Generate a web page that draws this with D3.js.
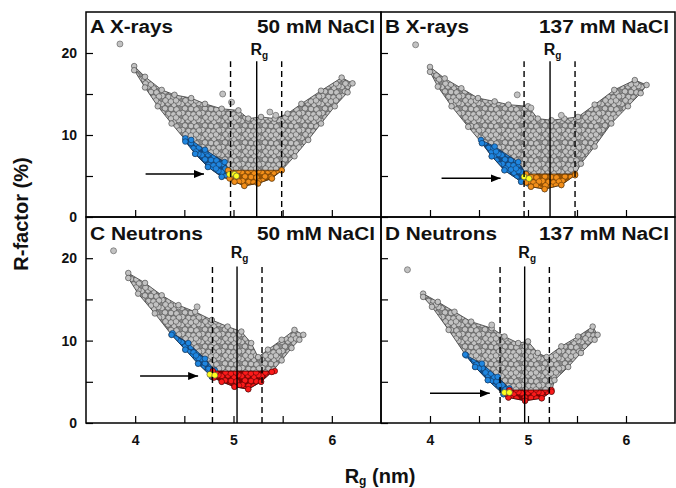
<!DOCTYPE html>
<html>
<head>
<meta charset="utf-8">
<script src="https://cdn.jsdelivr.net/npm/d3@7"></script>
<style>
  body { margin: 0; background: #fff; }
  svg { display: block; }
  text { font-family: Arial, "Liberation Sans", sans-serif; font-weight: bold; fill: #111; }
</style>
</head>
<body>
<svg id="chart" width="676" height="488"></svg>
<script>
// ---- ticks ----
const xTicks = [4, 4.5, 5, 5.5, 6];
const yTicks = [0, 5, 10, 15, 20];

// ---- panel headings ----
const panelTitles = ["A X-rays", "B X-rays", "C Neutrons", "D Neutrons"];
const saltLabels = ["50 mM NaCl", "137 mM NaCl", "50 mM NaCl", "137 mM NaCl"];

// ---- measured Rg (solid) and its bounds (dashed), nm ----
const rgCentre = [5.236, 5.225, 5.036, 4.966];
const rgLow = [4.97, 4.96, 4.786, 4.715];
const rgHigh = [5.49, 5.48, 5.29, 5.218];

// ---- arrows pointing at the selected models: [Rg start, Rg end, R-factor] ----
const arrowA = [4.106, 4.70, 5.24];
const arrowB = [4.118, 4.72, 4.72];
const arrowC = [4.05, 4.64, 5.70];
const arrowD = [4.00, 4.61, 3.60];

// ---- ensemble clouds: outline of all models [Rg, R-factor] ----
const cloudA = [[3.99,18.4],[4.10,17.1],[4.27,15.5],[4.40,14.9],[4.57,14.5],[4.71,13.8],[4.88,13.2],[5.05,13.0],[5.15,12.0],[5.28,12.2],[5.42,12.0],[5.55,12.6],[5.69,13.8],[5.89,15.4],[6.10,17.0],[6.21,16.3],
  [6.16,15.2],[6.03,13.5],[5.89,11.4],[5.76,9.4],[5.62,7.4],[5.49,5.7],[5.39,4.7],[5.25,4.1],[5.11,3.8],[5.01,4.3],[4.88,4.9],[4.74,6.1],[4.61,7.7],[4.51,9.4],[4.37,11.4],[4.23,13.5],[4.10,15.8],[3.99,17.9]];
const cloudB = [[4.00,18.3],[4.15,16.9],[4.32,15.7],[4.49,14.5],[4.66,14.1],[4.80,13.7],[5.00,13.5],[5.10,12.0],[5.24,11.8],[5.37,12.0],[5.51,12.2],[5.68,13.7],[5.88,15.5],[6.09,16.7],[6.21,16.1],
  [6.15,15.1],[6.02,13.5],[5.85,11.4],[5.68,8.6],[5.54,6.5],[5.48,5.1],[5.34,3.9],[5.17,3.4],[5.03,3.7],[4.93,4.3],[4.76,5.7],[4.63,7.4],[4.53,9.0],[4.39,11.0],[4.22,13.5],[4.08,15.9],[4.00,17.7]];
const cloudC = [[3.93,18.2],[4.10,17.0],[4.27,15.5],[4.44,14.3],[4.61,13.5],[4.78,12.5],[4.94,11.7],[5.08,11.1],[5.18,9.7],[5.25,8.0],[5.35,8.9],[5.49,10.1],[5.62,11.3],[5.71,10.7],
  [5.67,10.1],[5.59,9.1],[5.49,7.6],[5.39,6.2],[5.28,5.0],[5.15,4.1],[5.01,4.4],[4.88,5.0],[4.78,5.6],[4.64,7.2],[4.51,8.9],[4.37,10.7],[4.20,13.3],[4.03,15.7],[3.93,17.6]];
const cloudD = [[3.93,15.7],[4.08,14.7],[4.25,13.5],[4.42,12.3],[4.63,11.5],[4.76,10.5],[4.90,9.7],[5.00,9.9],[5.10,8.5],[5.19,8.0],[5.34,9.3],[5.51,10.5],[5.66,11.7],[5.71,10.7],
  [5.68,10.1],[5.54,8.5],[5.41,6.8],[5.27,5.2],[5.24,3.8],[5.14,3.0],[4.97,2.7],[4.80,3.1],[4.75,3.5],[4.59,5.2],[4.46,6.8],[4.36,8.3],[4.19,11.3],[4.02,14.1],[3.93,15.3]];

// ---- compact-model band (blue) ----
const compactA = [[4.51,9.6],[4.57,9.4],[4.71,8.2],[4.91,6.7],[4.95,5.7],[5.05,4.7],[5.01,4.5],[4.88,4.9],[4.74,6.1],[4.61,7.7],[4.51,9.2]];
const compactB = [[4.52,9.4],[4.66,8.6],[4.90,6.7],[4.98,5.3],[5.03,4.7],[5.00,4.1],[4.93,4.3],[4.76,5.7],[4.63,7.4],[4.53,9.0]];
const compactC = [[4.38,10.9],[4.54,9.7],[4.71,7.8],[4.81,6.4],[4.80,5.6],[4.78,5.6],[4.64,7.2],[4.51,8.9],[4.37,10.7]];
const compactD = [[4.37,8.2],[4.53,7.2],[4.69,5.6],[4.81,4.2],[4.78,3.6],[4.75,3.5],[4.59,5.2],[4.46,6.8],[4.36,8.3]];

// ---- best-fitting models (orange for X-rays, red for neutrons) ----
const bestA = [[4.945,5.7],[5.49,5.7],[5.39,4.7],[5.25,4.1],[5.11,3.8],[5.01,4.3],[4.96,4.7]];
const bestB = [[4.98,5.24],[5.48,5.24],[5.48,5.1],[5.34,3.9],[5.17,3.4],[5.03,3.7],[4.98,4.2]];
const bestC = [[4.79,6.3],[5.42,6.3],[5.39,6.2],[5.28,5.0],[5.15,4.1],[5.01,4.4],[4.88,5.0],[4.80,5.5]];
const bestD = [[4.81,4.0],[5.24,4.0],[5.24,3.8],[5.14,3.0],[4.97,2.7],[4.80,3.1],[4.78,3.6]];

// ---- selected models (yellow) ----
const selectedA = [[4.96,5.2],[5.01,5.2],[5.03,5.0]];
const selectedB = [[4.96,4.9],[5.01,4.7]];
const selectedC = [[4.76,5.9],[4.81,5.8]];
const selectedD = [[4.76,3.7],[4.81,3.7]];

// ---- isolated models away from the main cloud ----
const strayA = [[3.845,21.1],[4.89,15.0],[4.98,14.0],[5.37,12.8],[5.43,12.4]];
const strayB = [[3.853,21.0],[4.89,14.9],[5.03,13.3],[5.34,12.4]];
const strayC = [[3.78,20.9],[4.63,14.1]];
const strayD = [[3.77,18.6],[4.63,11.9]];

const panels = [
  { title: panelTitles[0], salt: saltLabels[0], rg: rgCentre[0], lo: rgLow[0], hi: rgHigh[0], arrow: arrowA, cloud: cloudA, compact: compactA, best: bestA, bestKind: "orange", selected: selectedA, stray: strayA },
  { title: panelTitles[1], salt: saltLabels[1], rg: rgCentre[1], lo: rgLow[1], hi: rgHigh[1], arrow: arrowB, cloud: cloudB, compact: compactB, best: bestB, bestKind: "orange", selected: selectedB, stray: strayB },
  { title: panelTitles[2], salt: saltLabels[2], rg: rgCentre[2], lo: rgLow[2], hi: rgHigh[2], arrow: arrowC, cloud: cloudC, compact: compactC, best: bestC, bestKind: "red", selected: selectedC, stray: strayC },
  { title: panelTitles[3], salt: saltLabels[3], rg: rgCentre[3], lo: rgLow[3], hi: rgHigh[3], arrow: arrowD, cloud: cloudD, compact: compactD, best: bestD, bestKind: "red", selected: selectedD, stray: strayD }
];

// ---- layout ----
const colX = [[86, 381], [381, 675]];
const rowY = [[12, 217], [217, 423]];
const titleBase = [33, 240];
const rgLabelBase = [55, 258];
const titleWidths = [83, 84, 113, 112];
const saltWidths = [118, 130, 118, 130];

const svg = d3.select("#chart");
const defs = svg.append("defs");

// Overlapping-circle textures used to fill the dense model clouds
const palettes = {
  grey:   { bg: "#8a8a8a", fill: "#c2c2c2", stroke: "#3a3a3a" },
  blue:   { bg: "#124a86", fill: "#1f86e0", stroke: "#0d2f55" },
  orange: { bg: "#9a5200", fill: "#f38f1a", stroke: "#5a3000" },
  red:    { bg: "#8c0000", fill: "#fb1a1a", stroke: "#4d0000" }
};
const tileW = 20, tileH = 17, dotR = 2.8;
const tileCentres = [[2,2],[8,1.5],[14,3],[18.5,1],[5,6.5],[11,7],[16.5,7.5],[2.5,11],[8.5,12],[13.5,12.5],[19,11.5],[5.5,15.5],[11,16.5],[16,15.5]];
Object.entries(palettes).forEach(([key, p]) => {
  const pat = defs.append("pattern").attr("id", "tex-" + key)
    .attr("patternUnits", "userSpaceOnUse").attr("width", tileW).attr("height", tileH);
  pat.append("rect").attr("width", tileW).attr("height", tileH).attr("fill", p.bg);
  tileCentres.forEach(([cx, cy]) => {
    [-tileW, 0, tileW].forEach(ox => [-tileH, 0, tileH].forEach(oy => {
      pat.append("circle").attr("cx", cx + ox).attr("cy", cy + oy).attr("r", dotR)
        .attr("fill", p.fill).attr("stroke", p.stroke).attr("stroke-width", 0.5);
    }));
  });
});

defs.append("marker").attr("id", "head").attr("viewBox", "0 0 10 8")
  .attr("refX", 10).attr("refY", 4).attr("markerWidth", 10).attr("markerHeight", 8)
  .attr("markerUnits", "userSpaceOnUse").attr("orient", "auto")
  .append("path").attr("d", "M0,0 L10,4 L0,8 Z").attr("fill", "#000");

panels.forEach((p, i) => {
  const col = i % 2, row = Math.floor(i / 2);
  const [x0, x1] = colX[col];
  const [y0, y1] = rowY[row];
  const x = d3.scaleLinear().domain([3.5, 6.5]).range([x0, x1]);
  const y = d3.scaleLinear().domain([0, 25]).range([y1, y0]);
  const g = svg.append("g");

  const clipId = "clip" + i;
  defs.append("clipPath").attr("id", clipId).append("rect")
    .attr("x", x0).attr("y", y0).attr("width", x1 - x0).attr("height", y1 - y0);
  const plot = g.append("g").attr("clip-path", `url(#${clipId})`);

  const outline = d3.line().x(d => x(d[0])).y(d => y(d[1])).curve(d3.curveLinearClosed);

  function region(pts, key) {
    const pal = palettes[key];
    plot.append("path").attr("d", outline(pts))
      .attr("fill", `url(#tex-${key})`).attr("stroke", pal.stroke).attr("stroke-width", 0.8);
    plot.selectAll(null).data(pts).join("circle")
      .attr("cx", d => x(d[0])).attr("cy", d => y(d[1])).attr("r", dotR)
      .attr("fill", pal.fill).attr("stroke", pal.stroke).attr("stroke-width", 0.6);
  }

  region(p.cloud, "grey");
  plot.selectAll(null).data(p.stray).join("circle")
    .attr("cx", d => x(d[0])).attr("cy", d => y(d[1])).attr("r", 3)
    .attr("fill", palettes.grey.fill).attr("stroke", "#555").attr("stroke-width", 0.6);
  region(p.compact, "blue");
  region(p.best, p.bestKind);
  plot.selectAll(null).data(p.selected).join("circle")
    .attr("cx", d => x(d[0])).attr("cy", d => y(d[1])).attr("r", 3)
    .attr("fill", "#ffff1e").attr("stroke", "#444").attr("stroke-width", 0.6);

  // Rg line and bounds
  g.append("line").attr("x1", x(p.rg)).attr("x2", x(p.rg)).attr("y1", y(0)).attr("y2", y(19))
    .attr("stroke", "#000").attr("stroke-width", 1.4);
  [p.lo, p.hi].forEach(v => {
    g.append("line").attr("x1", x(v)).attr("x2", x(v)).attr("y1", y(0)).attr("y2", y(19))
      .attr("stroke", "#000").attr("stroke-width", 1.4).attr("stroke-dasharray", "6,4");
  });
  const rgText = g.append("text").attr("x", x(p.rg) - 6.3).attr("y", rgLabelBase[row]);
  rgText.append("tspan").style("font-size", "16px").text("R");
  rgText.append("tspan").style("font-size", "10px").attr("dy", 4).text("g");

  // arrow
  g.append("line").attr("x1", x(p.arrow[0])).attr("x2", x(p.arrow[1]))
    .attr("y1", y(p.arrow[2])).attr("y2", y(p.arrow[2]))
    .attr("stroke", "#000").attr("stroke-width", 1.5).attr("marker-end", "url(#head)");

  // axes (ticks inside the frame)
  const xAxis = d3.axisBottom(x).tickValues(xTicks).tickSize(-7).tickPadding(12)
    .tickFormat(d => (row === 1 && Number.isInteger(d)) ? d : "");
  const ax = g.append("g").attr("transform", `translate(0,${y1})`).call(xAxis);
  const yAxis = d3.axisLeft(y).tickValues(yTicks).tickSize(-7).tickPadding(9)
    .tickFormat(d => (col === 0 && d % 10 === 0) ? d : "");
  const ay = g.append("g").attr("transform", `translate(${x0},0)`).call(yAxis);
  [ax, ay].forEach(a => {
    a.select(".domain").remove();
    a.selectAll(".tick line").attr("stroke", "#000").attr("stroke-width", 1.2);
    a.selectAll(".tick text").attr("fill", "#111")
      .style("font-size", "14px").style("font-weight", "bold")
      .style("font-family", "Arial, 'Liberation Sans', sans-serif");
  });

  // frame
  g.append("rect").attr("x", x0).attr("y", y0).attr("width", x1 - x0).attr("height", y1 - y0)
    .attr("fill", "none").attr("stroke", "#000").attr("stroke-width", 1.5);

  // headings
  g.append("text").attr("x", x0 + 4).attr("y", titleBase[row])
    .attr("textLength", titleWidths[i]).attr("lengthAdjust", "spacingAndGlyphs")
    .style("font-size", "18px").text(p.title);
  g.append("text").attr("x", x1 - 6 - saltWidths[i]).attr("y", titleBase[row])
    .attr("textLength", saltWidths[i]).attr("lengthAdjust", "spacingAndGlyphs")
    .style("font-size", "18px").text(p.salt);
});

// axis titles
svg.append("text").attr("transform", "translate(28,214) rotate(-90)")
  .attr("text-anchor", "middle").style("font-size", "20px").text("R-factor (%)");
const xt = svg.append("text").attr("x", 380).attr("y", 483).attr("text-anchor", "middle");
xt.append("tspan").style("font-size", "20px").text("R");
xt.append("tspan").style("font-size", "12px").attr("dy", 2).text("g");
xt.append("tspan").style("font-size", "20px").attr("dy", -2).text(" (nm)");
</script>
</body>
</html>
